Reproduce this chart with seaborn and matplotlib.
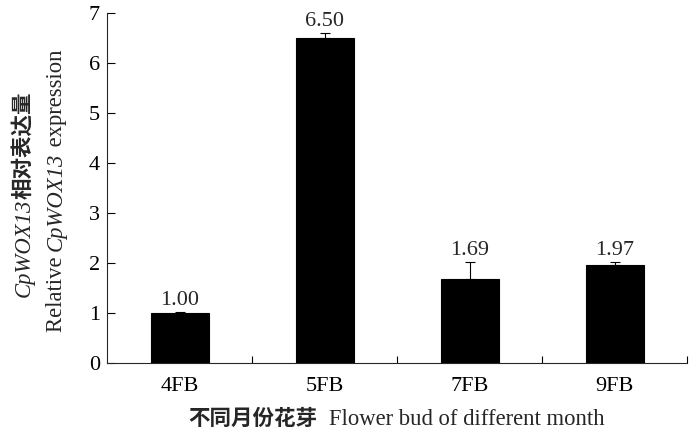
import matplotlib
matplotlib.use("Agg")
import matplotlib.pyplot as plt
import seaborn as sns
import pandas as pd
import numpy as np

# data
stages = ["4FB", "5FB", "7FB", "9FB"]
expression = [1.00, 6.50, 1.69, 1.97]
errors = [0.03, 0.10, 0.33, 0.06]
value_labels = ["1.00", "6.50", "1.69", "1.97"]

SERIF = "Liberation Serif"
CJK = "Noto Sans CJK SC"
FS = 16

sns.set_theme(style="ticks")
plt.rcParams["font.family"] = [SERIF, CJK]
plt.rcParams["axes.linewidth"] = 0.8

W, H = 700, 438
fig = plt.figure(figsize=(W / 100, H / 100), dpi=100)
ax = fig.add_axes([107 / W, 1 - 363 / H, 580 / W, 350 / H])

df = pd.DataFrame({"stage": stages, "value": expression})
sns.barplot(data=df, x="stage", y="value", color="black", width=0.4,
            edgecolor="black", linewidth=0.8, errorbar=None, ax=ax,
            saturation=1)

x = np.arange(len(stages))
ax.errorbar(x, expression, yerr=[np.zeros(len(errors)), errors], fmt="none",
            ecolor="black", elinewidth=0.8, capsize=3.5, capthick=0.8)

for xi, v, e, lab in zip(x, expression, errors, value_labels):
    ax.annotate(lab, (xi, v + e), xytext=(0, 5), textcoords="offset points",
                ha="center", va="baseline", fontsize=FS, family=SERIF)

ax.set_xlim(-0.5, len(stages) - 0.5)
ax.set_ylim(0, 7)
ax.set_yticks(range(0, 8))
ax.set_xlabel("")
ax.set_ylabel("")
for s in ["top", "right"]:
    ax.spines[s].set_visible(False)

ax.tick_params(axis="y", direction="in", length=6, width=0.8, pad=5,
               labelsize=FS, color="black")
ax.tick_params(axis="x", which="major", length=0, pad=10, labelsize=FS)
ax.set_xticks(np.arange(0.5, len(stages)), minor=True)
ax.tick_params(axis="x", which="minor", direction="in", length=5, width=0.8,
               color="black")
for lab in ax.get_xticklabels() + ax.get_yticklabels():
    lab.set_family(SERIF)
    lab.set_color("black")


def place_pieces(pieces, x0, y0, vertical=False):
    """Write text pieces one after another, baseline anchored at (x0, y0) px."""
    renderer = fig.canvas.get_renderer()
    pos = x0 if not vertical else y0
    for txt, kw in pieces:
        if vertical:
            t = fig.text(x0 / W, pos / H, txt, rotation=90, rotation_mode="anchor",
                         ha="left", va="baseline", **kw)
            pos += t.get_window_extent(renderer).height
        else:
            t = fig.text(pos / W, y0 / H, txt, ha="left", va="baseline", **kw)
            pos += t.get_window_extent(renderer).width


cn = dict(family=CJK, weight="bold", fontsize=15.5)
it = dict(family=SERIF, style="italic", fontsize=16.3)
rm = dict(family=SERIF, fontsize=16.3)

# y label, two lines
place_pieces([("CpWOX13", it), ("相对表达量", cn)], 30, H - 297, vertical=True)
place_pieces([("Relative ", rm), ("CpWOX13", it), (" expression", rm)],
             62, H - 332, vertical=True)

# x label
place_pieces([("不同月份花芽", cn)], 188, H - 425)
place_pieces([("Flower bud of different month", rm)], 329, H - 425)

fig.savefig("out.png", dpi=100)
